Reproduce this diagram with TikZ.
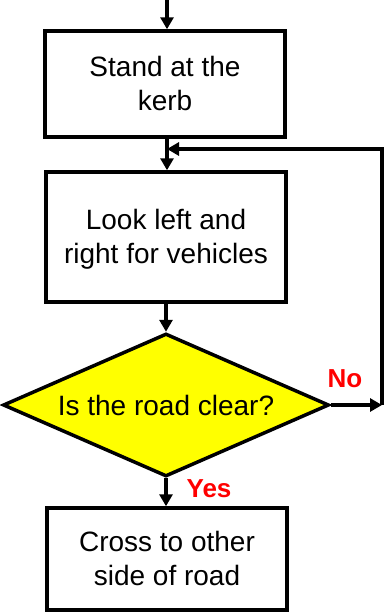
\documentclass[tikz,border=0pt]{standalone}
\usepackage{fontspec}
\setmainfont{Liberation Sans}
\usetikzlibrary{arrows.meta, positioning, shapes.geometric}
\definecolor{amarelo}{RGB}{255,255,0}
\definecolor{vermelho}{RGB}{255,0,0}

\begin{document}
\begin{tikzpicture}[x=1pt, y=-1pt,
      passo/.style={draw, line width=3.5pt, rectangle, minimum width=240pt,
                    align=center, font=\fontsize{28}{34}\selectfont,
                    text depth=2pt},
      decisao/.style={draw, line width=3.5pt, diamond, aspect=2.28,
                      inner sep=0pt, minimum width=326pt, minimum height=143pt,
                      fill=amarelo, font=\fontsize{28}{33}\selectfont},
      rotulo/.style={font=\fontsize{26}{30}\selectfont\bfseries, text=vermelho},
      seta/.style={line width=3.5pt, -{Triangle[length=12pt, width=13pt]}}]
    \useasboundingbox (0,0) rectangle (387,613);
    % Caixas
    \node[passo, minimum height=106pt] (P1) at (165,84) {Stand at the\\kerb};
    \node[passo, minimum height=130pt] (P2) at (166,237) {Look left and\\right for vehicles};
    \node[decisao] (D) at (166,405) {Is the road clear?};
    \node[passo, minimum height=102pt] (P3) at (167,559) {Cross to other\\side of road};
    % Ligacoes
    \coordinate (inicio) at (167,0);
    \coordinate (junta) at (167,149);
    \coordinate (volta) at (382,405);
    \draw[seta] (inicio) -- (inicio |- P1.north);
    \draw[seta] (P1.south -| inicio) -- (P2.north -| inicio);
    \draw[seta] (P2.south -| D.north) -- (D.north);
    \draw[seta] (D.south) -- (D.south |- P3.north);
    % Realimentacao
    \draw[seta] (D.east) -- (volta);
    \draw[seta] (volta) |- (junta);
    % Rotulos
    \node[rotulo, anchor=base] (nao) at (345,387) {No};
    \node[rotulo, anchor=base] (sim) at (209,497) {Yes};
  \end{tikzpicture}
\end{document}
